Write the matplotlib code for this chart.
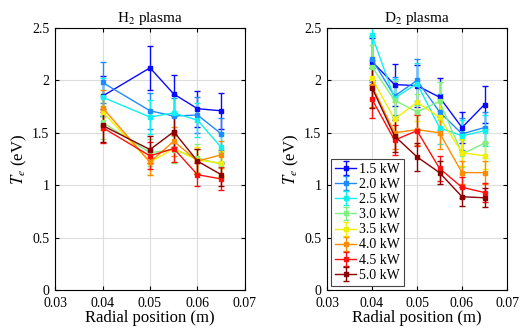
import numpy as np
import matplotlib.pyplot as plt

plt.rcParams['font.family'] = ['Liberation Serif', 'DejaVu Serif']
plt.rcParams['mathtext.fontset'] = 'stix'

powers = ['1.5 kW', '2.0 kW', '2.5 kW', '3.0 kW', '3.5 kW', '4.0 kW', '4.5 kW', '5.0 kW']
colors = ['#0a0aff', '#1e8cff', '#10f0f0', '#80f080', '#f0f000', '#ff8c00', '#ff1010', '#8b0000']

# H2 plasma
r_h2 = [0.04, 0.05, 0.055, 0.06, 0.065]
te_h2 = [
    [1.85, 2.12, 1.87, 1.73, 1.71],
    [1.98, 1.71, 1.66, 1.67, 1.49],
    [1.84, 1.65, 1.69, 1.62, 1.36],
    [1.60, 1.31, 1.34, 1.26, 1.20],
    [1.70, 1.22, 1.35, 1.24, 1.21],
    [1.74, 1.22, 1.42, 1.23, 1.29],
    [1.55, 1.28, 1.35, 1.10, 1.06],
    [1.57, 1.34, 1.51, 1.23, 1.10],
]
err_h2 = [
    [0.19, 0.21, 0.18, 0.17, 0.17],
    [0.20, 0.17, 0.17, 0.17, 0.15],
    [0.18, 0.16, 0.17, 0.16, 0.14],
    [0.16, 0.13, 0.13, 0.13, 0.12],
    [0.17, 0.12, 0.13, 0.12, 0.12],
    [0.17, 0.12, 0.14, 0.12, 0.13],
    [0.15, 0.13, 0.13, 0.11, 0.11],
    [0.16, 0.13, 0.15, 0.12, 0.11],
]

# D2 plasma
r_d2 = [0.04, 0.045, 0.05, 0.055, 0.06, 0.065]
te_d2 = [
    [2.18, 1.96, 1.95, 1.84, 1.55, 1.77],
    [2.20, 1.85, 2.00, 1.70, 1.49, 1.55],
    [2.43, 1.83, 1.97, 1.55, 1.47, 1.52],
    [2.13, 1.81, 1.70, 1.80, 1.30, 1.40],
    [2.02, 1.63, 1.79, 1.65, 1.31, 1.28],
    [1.95, 1.50, 1.53, 1.50, 1.12, 1.12],
    [1.82, 1.43, 1.52, 1.16, 0.98, 0.93],
    [1.93, 1.47, 1.27, 1.12, 0.89, 0.88],
]
err_d2 = [
    [0.22, 0.20, 0.20, 0.18, 0.15, 0.18],
    [0.22, 0.18, 0.20, 0.17, 0.15, 0.15],
    [0.24, 0.18, 0.20, 0.16, 0.15, 0.15],
    [0.21, 0.18, 0.17, 0.18, 0.13, 0.14],
    [0.20, 0.16, 0.18, 0.17, 0.13, 0.13],
    [0.20, 0.15, 0.15, 0.15, 0.11, 0.11],
    [0.18, 0.14, 0.15, 0.12, 0.10, 0.09],
    [0.19, 0.15, 0.13, 0.11, 0.09, 0.09],
]

fig = plt.figure(figsize=(5.24, 3.31), dpi=100)
ax1 = fig.add_axes([55 / 524, 41 / 331, 190 / 524, 262 / 331])
ax2 = fig.add_axes([327 / 524, 41 / 331, 180 / 524, 262 / 331])

for ax, r, te, err, title in [(ax1, r_h2, te_h2, err_h2, 'H$_2$ plasma'),
                              (ax2, r_d2, te_d2, err_d2, 'D$_2$ plasma')]:
    for i in range(len(powers)):
        ax.errorbar(r, te[i], yerr=err[i], color=colors[i], marker='s',
                    markersize=3, markerfacecolor=colors[i], markeredgecolor=colors[i],
                    linewidth=1, elinewidth=1, capsize=2, label=powers[i])
    ax.set_xlim(0.03, 0.07)
    ax.set_ylim(0, 2.5)
    ax.set_xticks([0.03, 0.04, 0.05, 0.06, 0.07])
    ax.set_xticklabels(['0.03', '0.04', '0.05', '0.06', '0.07'])
    ax.set_yticks([0, 0.5, 1, 1.5, 2, 2.5])
    ax.set_yticklabels(['0', '0.5', '1', '1.5', '2', '2.5'])
    ax.tick_params(direction='in', top=True, right=True, labelsize=10, length=3)
    ax.tick_params(axis='x', pad=5)
    ax.tick_params(axis='y', pad=4)
    ax.grid(True, color='#dddddd', linewidth=0.8)
    ax.set_axisbelow(True)
    ax.set_title(title, fontsize=11, pad=4)
    ax.set_xlabel('Radial position (m)', fontsize=12, labelpad=0)
    ax.set_ylabel('$T_e$ (eV)', fontsize=12, labelpad=2)

leg = ax2.legend(loc='lower left', fontsize=10, fancybox=False, edgecolor='#444444',
                 borderpad=0.3, labelspacing=0.15, handlelength=1.5, handletextpad=0.2,
                 borderaxespad=0.3, framealpha=1)
leg.get_frame().set_linewidth(0.8)

fig.savefig('out.png', dpi=100)
